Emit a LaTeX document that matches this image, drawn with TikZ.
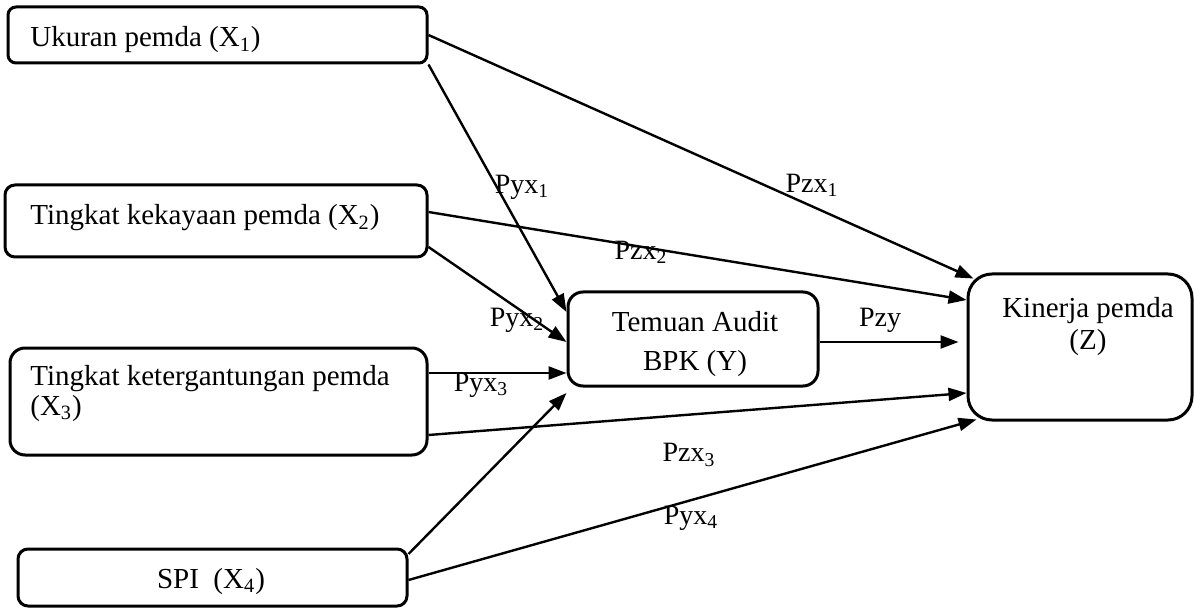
\documentclass[tikz,border=0pt]{standalone}
\usepackage{fontspec}
\setmainfont{Liberation Serif}
\usetikzlibrary{arrows.meta}
\begin{document}
\begin{tikzpicture}[x=0.5pt,y=-0.5pt,
  box/.style={draw, line width=1.5pt, rounded corners=5pt, inner sep=0pt},
  conn/.style={line width=1.2pt, -{Triangle[length=9pt,width=6.5pt]}},
  lbl/.style={font=\fontsize{14}{16}\selectfont, inner sep=0pt},
  txt/.style={font=\fontsize{14.5}{17}\selectfont, inner sep=0pt}]
\useasboundingbox (0,0) rectangle (1194,609);
% boxes
\node[box, rounded corners=4pt, minimum width=209.5pt, minimum height=28pt] (x1) at (217.5,35) {};
\node[txt, anchor=base west] (x1t) at (30,47) {Ukuran pemda (X\textsubscript{1})};
\node[box, rounded corners=5pt, minimum width=211pt, minimum height=36pt] (x2) at (216,221) {};
\node[txt, anchor=base west] (x2t) at (30,225) {Tingkat kekayaan pemda (X\textsubscript{2})};
\node[box, rounded corners=7.5pt, minimum width=208.5pt, minimum height=53.5pt] (x3) at (218.5,401.5) {};
\node[txt, anchor=base west] (x3t) at (30,385) {Tingkat ketergantungan pemda};
\node[txt, anchor=base west] (x3u) at (30,415) {(X\textsubscript{3})};
\node[box, rounded corners=5pt, minimum width=194.5pt, minimum height=28.5pt] (x4) at (212.5,577.5) {};
\node[txt, anchor=base] (x4t) at (211,588) {SPI \ (X\textsubscript{4})};
\node[box, rounded corners=7.5pt, minimum width=125pt, minimum height=47pt] (y) at (693,339) {};
\node[txt, anchor=base] (yt1) at (695,331) {Temuan Audit};
\node[txt, anchor=base] (yt2) at (695,370) {BPK (Y)};
\node[box, rounded corners=12pt, minimum width=112pt, minimum height=73pt] (z) at (1080,347) {};
\node[txt, anchor=base] (zt1) at (1088,317) {Kinerja pemda};
\node[txt, anchor=base] (zt2) at (1088,350) {(Z)};
% connectors
\draw[conn] (x1.east) -- ([xshift=3.5pt,yshift=-3pt]z.north west);
\draw[conn] (x1.south east) -- ([yshift=13.5pt]y.west);
\draw[conn] ([yshift=4.5pt]x2.east) -- ([yshift=23.5pt]z.west);
\draw[conn] ([yshift=-13pt]x2.east) -- ([yshift=-1.5pt]y.west);
\draw[conn] ([yshift=14.25pt]x3.east) -- ([yshift=-17pt]y.west);
\draw[conn] ([yshift=-16.75pt]x3.east) -- ([yshift=-23pt]z.west);
\draw[conn] ([yshift=11.75pt]x4.east) -- ([yshift=-27pt]y.west);
\draw[conn] ([yshift=-1.25pt]x4.east) -- ([xshift=5pt,yshift=1pt]z.south west);
\draw[conn] ([yshift=-1.5pt]y.east) -- ([xshift=-4pt,yshift=2.5pt]z.west);
% labels
\node[lbl] (lyx1) at (522,187) {Pyx\textsubscript{1}};
\node[lbl] (lzx1) at (812,185) {Pzx\textsubscript{1}};
\node[lbl] (lzx2) at (641,252) {Pzx\textsubscript{2}};
\node[lbl] (lyx2) at (517,320) {Pyx\textsubscript{2}};
\node[lbl] (lyx3) at (481,385) {Pyx\textsubscript{3}};
\node[lbl] (lzy) at (880,320) {Pzy};
\node[lbl] (lzx3) at (689,455) {Pzx\textsubscript{3}};
\node[lbl] (lyx4) at (691,518) {Pyx\textsubscript{4}};
\end{tikzpicture}
\end{document}
